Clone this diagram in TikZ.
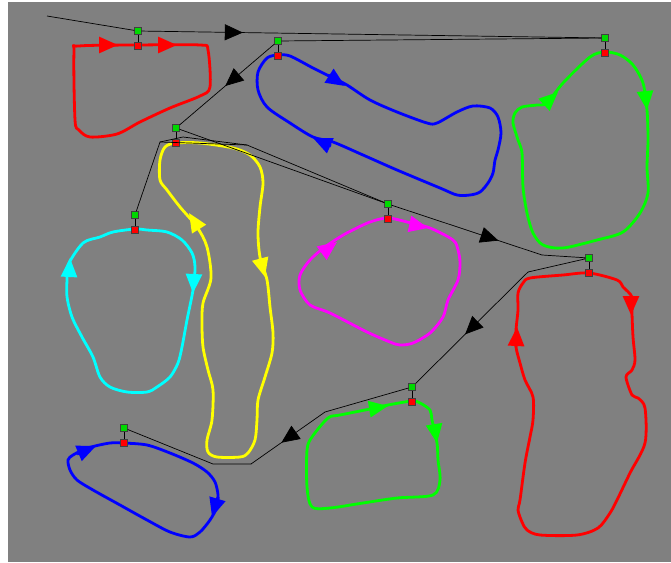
\documentclass[tikz,border=0pt]{standalone}
\usetikzlibrary{arrows.meta,positioning,decorations.markings}
\definecolor{loopred}{RGB}{255,0,0}
\definecolor{loopblue}{RGB}{0,0,255}
\definecolor{loopgreen}{RGB}{0,255,0}
\definecolor{loopcyan}{RGB}{0,255,255}
\definecolor{loopyellow}{RGB}{255,255,0}
\definecolor{loopmagenta}{RGB}{255,0,255}
\definecolor{bggray}{RGB}{128,128,128}

\begin{document}
\begin{tikzpicture}[x=1pt, y=-1pt,
      wp/.style={draw=black!75, fill=loopgreen!85!black, minimum size=7pt, inner sep=0pt},
      sp/.style={draw=black!75, fill=loopred, minimum size=7pt, inner sep=0pt},
      route/.style={draw=black, line width=0.7pt},
      link/.style={draw=black, line width=0.6pt},
      loopline/.style={line width=2.8pt, line join=round},
      looptip/.style={-{Triangle[length=19pt,width=16pt]}},
      midtip/.style={postaction={decorate}, decoration={markings,
          mark=at position #1 with {\arrow{Triangle[length=18pt,width=16pt]}}}}
    ]
      \fill[white] (0,0) rectangle (671,562);
      \fill[bggray] (8,2) rectangle (671,562);
      \useasboundingbox (0,0) rectangle (671,562);

      % loops
      \draw[loopline, loopred] plot[smooth cycle, tension=0.5] coordinates {
        (138,45) (200,45) (208,50) (210,87) (200,96) (170,108) (140,122)
        (117,134) (90,137) (79,130) (75,120) (74,52) (79,46)};
      \draw[loopline, loopred, looptip] (99,45) -- (118,45);
      \draw[loopline, loopred, looptip] (158,45) -- (177,45);

      \draw[loopline, loopblue] plot[smooth cycle, tension=0.5] coordinates {
        (278,55) (290,56) (313,68) (333,78) (347,85) (370,100) (397,112)
        (427,123) (437,123) (457,112) (473,106) (490,108) (498,117) (501,133)
        (498,150) (495,160) (493,173) (488,183) (480,192) (470,195) (457,195)
        (440,188) (397,170) (363,155) (333,142) (313,137) (290,123) (267,107)
        (258,90) (258,72) (267,58)};
      \draw[loopline, loopblue, looptip] (328,75) -- (345,86);
      \draw[loopline, loopblue, looptip] (331,146) -- (313,138);

      \draw[loopline, loopgreen] plot[smooth cycle, tension=0.5] coordinates {
        (605,52) (620,55) (633,65) (643,83) (647,110) (648,140) (647,167)
        (648,193) (640,213) (623,232) (597,240) (563,248) (543,245) (533,233)
        (527,213) (523,187) (522,153) (518,140) (513,123) (515,113) (522,107)
        (537,105) (547,103) (563,83) (590,57)};
      \draw[loopline, loopgreen, looptip] (645,91) -- (647,110);
      \draw[loopline, loopgreen, looptip] (545,104) -- (558,92);

      \draw[loopline, loopcyan] plot[smooth cycle, tension=0.5] coordinates {
        (135,229) (147,230) (167,232) (182,240) (192,253) (195,267) (193,290)
        (187,320) (182,347) (178,363) (170,377) (157,387) (147,392) (127,392)
        (110,387) (100,377) (93,357) (82,337) (72,317) (67,297) (67,280)
        (68,265) (83,243) (100,237) (113,232)};
      \draw[loopline, loopcyan, looptip] (69,277) -- (70,258);
      \draw[loopline, loopcyan, looptip] (194,274) -- (193,293);

      \draw[loopline, loopyellow] plot[smooth cycle, tension=0.5] coordinates {
        (176,143) (200,143) (233,148) (250,155) (260,167) (263,183) (260,207)
        (258,233) (260,257) (267,280) (270,307) (273,333) (272,353) (265,377)
        (258,400) (257,420) (255,440) (248,453) (240,457) (217,457) (208,452)
        (207,440) (212,420) (213,390) (208,370) (203,347) (202,323) (203,303)
        (211,278) (207,247) (197,227) (180,207) (167,190) (160,180) (160,160)
        (165,147)};
      \draw[loopline, loopyellow, looptip] (260,258) -- (265,277);
      \draw[loopline, loopyellow, looptip] (199,229) -- (189,213);

      \draw[loopline, loopmagenta] plot[smooth cycle, tension=0.5] coordinates {
        (388,218) (407,222) (430,228) (453,240) (458,250) (460,263) (458,280)
        (448,300) (443,317) (430,333) (413,343) (400,345) (390,342) (367,332)
        (330,313) (310,305) (300,290) (300,275) (310,260) (325,247) (345,234)
        (370,222)};
      \draw[loopline, loopmagenta, looptip] (410,224) -- (428,228);
      \draw[loopline, loopmagenta, looptip] (322,253) -- (337,242);

      \draw[loopline, loopred] plot[smooth cycle, tension=0.5] coordinates {
        (589,273) (617,280) (623,287) (632,297) (632,313) (633,337) (635,360)
        (632,370) (626,377) (632,395) (638,398) (645,408) (645,443) (630,473)
        (617,500) (610,513) (598,528) (577,535) (540,535) (527,530) (522,522)
        (518,510) (520,500) (525,463) (530,437) (533,420) (533,397) (525,380)
        (520,363) (516,347) (516,330) (518,310) (518,293) (523,283) (530,278)
        (563,275)};
      \draw[loopline, loopred, looptip] (631,296) -- (631,315);
      \draw[loopline, loopred, looptip] (516,347) -- (517,327);

      \draw[loopline, loopgreen] plot[smooth cycle, tension=0.5] coordinates {
        (412,401) (420,403) (430,410) (432,420) (437,443) (438,460) (440,480)
        (433,495) (397,498) (363,503) (330,508) (312,507) (307,487) (307,450)
        (312,437) (328,418) (340,415) (370,409) (388,405)};
      \draw[loopline, loopgreen, looptip] (370,409) -- (388,406);
      \draw[loopline, loopgreen, looptip] (434,424) -- (437,443);

      \draw[loopline, loopblue] plot[smooth cycle, tension=0.5] coordinates {
        (123,443) (147,445) (170,453) (193,463) (207,472) (215,482) (218,495)
        (217,507) (210,520) (200,532) (190,537) (170,532) (147,520) (120,505)
        (93,490) (77,480) (70,470) (68,460) (73,455) (85,449) (95,446) (110,443)};
      \draw[loopline, loopblue, looptip] (218,497) -- (212,517);
      \draw[loopline, loopblue, looptip] (77,454) -- (96,446);

      % waypoints
      \node[wp] (wa) at (138,31) {};
      \node[wp] (wb) at (605,38) {};
      \node[wp] (wc) at (278,41) {};
      \node[wp] (wd) at (176,128) {};
      \node[wp] (we) at (135,215) {};
      \node[wp] (wf) at (388,204) {};
      \node[wp] (wg) at (589,258) {};
      \node[wp] (wh) at (412,387) {};
      \node[wp] (wi) at (124,428) {};
      \foreach \w in {a,b,c,d,e,f,g,h,i}
        \node[sp, below=7pt of w\w] (s\w) {};
      \foreach \w in {a,b,c,d,e,f,g,h,i}
        \draw[link] (w\w) -- (s\w);

      \coordinate (start) at (47,16);
      \coordinate (bg1) at (542,255);
      \coordinate (bg2) at (528,272);
      \coordinate (bh1) at (325,412);
      \coordinate (bh2) at (251,464);
      \coordinate (bh3) at (213,464);
      \coordinate (be1) at (160,142);
      \coordinate (be2) at (183,137);
      \coordinate (be3) at (247,145);

      % route
      \draw[route] (start) -- (wa);
      \draw[route, midtip=0.22] (wa) -- (wb);
      \draw[route] (wb) -- (wc);
      \draw[route, midtip=0.52] (wc) -- (wd);
      \draw[route] (wd) -- (wf);
      \draw[route, midtip=0.71] (wf) -- (bg1);
      \draw[route] (bg1) -- (wg) -- (bg2);
      \draw[route, midtip=0.56] (bg2) -- (wh);
      \draw[route] (wh) -- (bh1);
      \draw[route, midtip=0.59] (bh1) -- (bh2);
      \draw[route] (bh2) -- (bh3) -- (wi);
      \draw[route] (we) -- (be1) -- (be2) -- (be3) -- (wf);
      \draw[route] (be1) -- (be3);
    \end{tikzpicture}
\end{document}
